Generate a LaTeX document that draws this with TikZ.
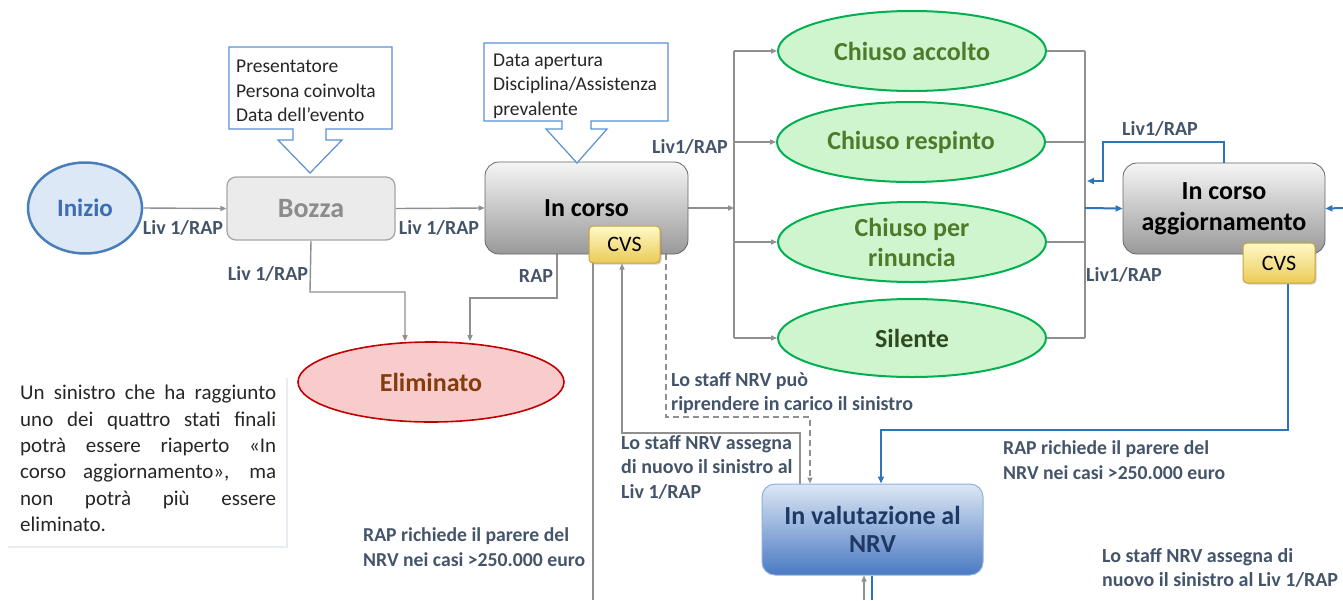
\documentclass[tikz,border=0pt]{standalone}
\usepackage{fontspec}
\setmainfont{Carlito}
\usetikzlibrary{shapes.geometric,arrows.meta,shadows,calc}
\definecolor{gc}{HTML}{8F8F8F}
\definecolor{bc}{HTML}{2E75B6}
\definecolor{lbl}{HTML}{44546A}
\definecolor{callb}{HTML}{5B8FD3}
\definecolor{grnb}{HTML}{00B050}
\definecolor{grnf}{HTML}{CFF5CF}
\definecolor{grnt}{HTML}{4E7A2A}
\definecolor{grnd}{HTML}{2F4A1F}
\definecolor{redb}{HTML}{C00000}
\definecolor{redf}{HTML}{F8CCCC}
\definecolor{redt}{HTML}{843C0C}
\definecolor{inib}{HTML}{4A7EBB}
\definecolor{inif}{HTML}{DCE8F6}
\definecolor{init}{HTML}{3B6DB3}
\definecolor{bozb}{HTML}{A6A6A6}
\definecolor{bozf}{HTML}{EBEBEB}
\definecolor{bozt}{HTML}{8C8C8C}
\definecolor{cvst}{HTML}{FFF9C8}
\definecolor{cvsbot}{HTML}{EBCB58}
\definecolor{cvsb}{HTML}{C8A43A}
\definecolor{valt}{HTML}{DCE7F5}
\definecolor{valbot}{HTML}{4A79C2}
\definecolor{valb}{HTML}{8EB0DE}
\definecolor{valtx}{HTML}{1F3864}
\definecolor{boxln}{HTML}{E8EDF3}
\definecolor{dtext}{HTML}{262626}
\pgfdeclarelayer{bg}
\pgfsetlayers{bg,main}
\begin{document}
\begin{tikzpicture}[x=1pt,y=-1pt,
  statefont/.style={font=\fontsize{26}{31}\selectfont\bfseries, align=center, inner sep=0pt},
  grn/.style={statefont, ellipse, draw=grnb, line width=2pt, fill=grnf, text=grnt, minimum width=268pt, minimum height=80pt},
  graybox/.style={statefont, rectangle, rounded corners=14pt, draw=gray!80!black, line width=0.8pt, top color=white!96!black, bottom color=white!60!black},
  cvsbox/.style={rectangle, rounded corners=4pt, draw=cvsb, line width=1pt, top color=cvst, bottom color=cvsbot, inner sep=0pt, font=\fontsize{22}{26}\selectfont, drop shadow={opacity=0.35, shadow xshift=1.5pt, shadow yshift=-1.5pt}},
  gline/.style={draw=gc, line width=1.4pt},
  garrow/.style={gline, -{Triangle[length=6pt,width=5pt]}},
  gdash/.style={gline, dashed, dash pattern=on 6pt off 4pt, -{Triangle[length=6pt,width=5pt]}},
  bline/.style={draw=bc, line width=2pt},
  barrow/.style={bline, -{Triangle[length=7pt,width=6pt]}},
  lab/.style={font=\fontsize{20}{24}\selectfont\bfseries, text=lbl, inner sep=0pt},
  note/.style={font=\fontsize{20}{24.5}\selectfont\bfseries, text=lbl, inner sep=0pt, align=left},
  notealt/.style={font=\fontsize{19.7}{24.5}\selectfont\bfseries, text=lbl, inner sep=0pt, align=left},
  callout/.style={draw=callb, line width=1.2pt, fill=white},
  calltext/.style={font=\fontsize{19.5}{24.5}\selectfont, text=dtext, inner sep=0pt, align=left}
]
\useasboundingbox (0,0) rectangle (1343,600);

% ---------- nodes ----------
\node[ellipse, draw=inib, line width=2.5pt, fill=inif, minimum width=114pt, minimum height=91pt, inner sep=0pt, font=\fontsize{25}{30}\selectfont\bfseries, text=init] (inizio) at (85,208) {Inizio};

\node[rectangle, rounded corners=9pt, draw=bozb, line width=1.3pt, fill=bozf, minimum width=168pt, minimum height=63pt, inner sep=0pt, font=\fontsize{28}{32}\selectfont\bfseries, text=bozt] (bozza) at (311,208.5) {Bozza};

\node[graybox, minimum width=203pt, minimum height=92pt] (incorso) at (586.5,208) {In corso};
\node[cvsbox, minimum width=71pt, minimum height=37pt] (cvs1) at (624.5,244.5) {CVS};

\node[grn] (acc) at (912,51) {Chiuso accolto};
\node[grn] (resp) at (911,142) {Chiuso respinto};
\node[grn, font=\fontsize{26}{30}\selectfont\bfseries] (rin) at (912,242) {Chiuso per\\rinuncia};
\node[grn, text=grnd, minimum height=78pt] (sil) at (912,338) {Silente};

\node[ellipse, draw=redb, line width=1.6pt, fill=redf, minimum width=266pt, minimum height=80pt, inner sep=0pt, font=\fontsize{26}{30}\selectfont\bfseries, text=redt] (elim) at (431,382) {Eliminato};

\node[graybox, minimum width=202pt, minimum height=91pt] (agg) at (1224,208.5) {In corso\\aggiornamento};
\node[cvsbox, minimum width=72pt, minimum height=40pt] (cvs2) at (1279,263) {CVS};

\node[rectangle, rounded corners=13pt, draw=valb, line width=1pt, top color=valt, bottom color=valbot, minimum width=221pt, minimum height=91pt, inner sep=0pt, font=\fontsize{26}{28}\selectfont\bfseries, text=valtx, align=center] (valut) at (872.5,529.5) {In valutazione al\\NRV};

% ---------- callouts ----------
\draw[callout] (229,47) -- (392,47) -- (392,129) -- (326,129) -- (326,140) -- (342,140) -- (310,173) -- (278,140) -- (293,140) -- (293,129) -- (229,129) -- cycle;
\node[calltext, anchor=west] (c1) at (236,91) {Presentatore\\Persona coinvolta\\Data dell’evento};

\draw[callout] (484,43) -- (668,43) -- (668,121) -- (591,121) -- (591,129) -- (607,129) -- (577,163) -- (546,129) -- (562,129) -- (562,121) -- (484,121) -- cycle;
\node[calltext, anchor=west] (c2) at (493,86) {Data apertura\\Disciplina/Assistenza\\prevalente};

% ---------- labels ----------
\node[lab] (l1) at (183,228) {Liv 1/RAP};
\node[lab] (l2) at (439,228) {Liv 1/RAP};
\node[lab] (l3) at (268,274) {Liv 1/RAP};
\node[lab] (l4) at (536,276) {RAP};
\node[lab] (l5) at (690,147) {Liv1/RAP};
\node[lab] (l6) at (1160,129) {Liv1/RAP};
\node[lab] (l7) at (1124,275) {Liv1/RAP};

\node[note, anchor=west] (t1) at (671,393) {Lo staff NRV può\\riprendere in carico il sinistro};
\node[note, anchor=west] (t2) at (621,467) {Lo staff NRV assegna\\di nuovo il sinistro al\\Liv 1/RAP};
\node[notealt, anchor=west] (t3) at (363,547) {RAP richiede il parere del\\NRV nei casi >250.000 euro};
\node[notealt, anchor=west] (t4) at (1003,460) {RAP richiede il parere del\\NRV nei casi >250.000 euro};
\node[note, anchor=west] (t5) at (1102,568) {Lo staff NRV assegna di\\nuovo il sinistro al Liv 1/RAP};

\draw[boxln, line width=1.2pt] (287,378) -- (287,547) -- (8,547);
\node[font=\fontsize{21}{26.4}\selectfont, text=dtext, text width=256pt, align=justify, inner sep=0pt, anchor=north west] (desc) at (20,385)
  {\hyphenpenalty=10000 Un sinistro che ha raggiunto\linebreak uno dei quattro stati finali\linebreak potrà essere riaperto «In\linebreak corso aggiornamento», ma\linebreak non potrà più essere\linebreak eliminato.};

% ---------- coordinates ----------
\coordinate (busL) at (734,208);
\coordinate (busR) at (1085,208);
\coordinate (rightin) at (1343,208);
\coordinate (botA) at (593,600);
\coordinate (botB) at (864,600);
\coordinate (botC) at (872,600);

% ---------- connectors ----------
\begin{pgfonlayer}{bg}
\draw[garrow] (inizio.east |- 0,208) -- (bozza.west);
\draw[garrow] (bozza.east) -- (incorso.west);
\draw[garrow] (bozza.south) -- (310,292) -| ([xshift=-26pt]elim.north);
\draw[garrow] (incorso.south -| 557,0) -- (557,298) -| ([xshift=39pt]elim.north);
\draw[garrow] (incorso.east) -- (busL);
\draw[gline] (734,51) -- (734,338);
\draw[garrow] (734,51) -- (acc.west);
\draw[garrow] (734,142) -- (resp.west);
\draw[garrow] (734,242) -- (rin.west);
\draw[garrow] (734,338) -- (sil.west);
\draw[gline] (acc.east) -- (1085,51);
\draw[gline] (resp.east) -- (1085,142);
\draw[gline] (rin.east) -- (1085,242);
\draw[gline] (sil.east) -- (1085,338);
\draw[gline] (1085,51) -- (1085,338);
\draw[barrow] (busR) -- (agg.west);
\draw[barrow] (agg.north) |- (1103,142) -- (1103,181) -- (1087,181);
\draw[barrow] (rightin) -- (agg.east);
\draw[barrow] ([xshift=9pt]cvs2.south) |- (881,430) -- (valut.north -| 881,0);
\draw[bline] (valut.south -| botC) -- (botC);
\draw[garrow] (botB) -- (valut.south -| botB);
\draw[gline] (incorso.south -| botA) -- (botA);
\draw[garrow] (valut.north -| 800,0) |- (622,433) -- (cvs1.south -| 622,0);
\draw[gdash] (incorso.south -| 666,0) |- (810,417) -- (valut.north -| 810,0);
\end{pgfonlayer}
\end{tikzpicture}
\end{document}
